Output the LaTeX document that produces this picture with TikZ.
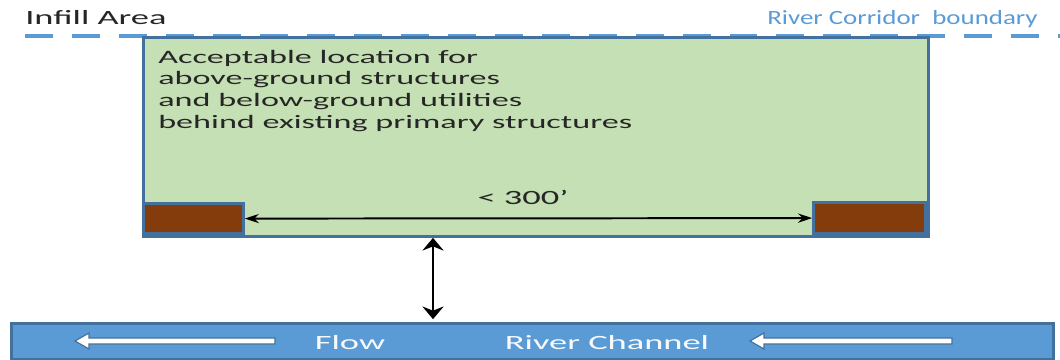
\documentclass[tikz,border=0pt]{standalone}
\usepackage{fontspec}
\setmainfont{Carlito}[FakeStretch=1.8]
\newfontfamily\narrowfont{Carlito}[FakeStretch=1.33]
\usetikzlibrary{arrows.meta}
\definecolor{edgeblue}{HTML}{41719C}
\definecolor{riverblue}{HTML}{5B9BD5}
\definecolor{infillgreen}{HTML}{C5E0B4}
\definecolor{bldgbrown}{HTML}{843C0C}
\definecolor{darktext}{HTML}{262626}

\begin{document}
\begin{tikzpicture}[x=0.025cm,y=-0.025cm,
        lbl/.style={font=\fontsize{13.5}{15.3}\selectfont, inner sep=0pt, text=darktext},
        biglbl/.style={lbl, font=\fontsize{14.4}{16}\selectfont},
        bldg/.style={draw=edgeblue, line width=2pt, fill=bldgbrown, inner sep=0pt},
        flowarrow/.style={draw=edgeblue, line width=0.8pt, fill=white},
        dimarrow/.style={line width=1.4pt, {Stealth[length=10pt,width=6.5pt]}-{Stealth[length=10pt,width=6.5pt]}}]
        \useasboundingbox (0,0) rectangle (1060,360);
        % corridor boundary and labels
        \draw[riverblue, line width=2.8pt, dash pattern=on 19.9pt off 13.5pt] (25,36) -- (1060,36);
        \node [biglbl, anchor=base west] (infilltxt) at (25,25) {Infill Area};
        \node [lbl, anchor=base east, text=riverblue, font=\narrowfont\fontsize{14.4}{16}\selectfont]
              (corridortxt) at (1038,25) {River Corridor\ \ boundary};
        % infill area
        \node [draw=edgeblue, line width=2pt, fill=infillgreen, inner sep=0pt,
               minimum width=19.625cm, minimum height=4.975cm, anchor=north west] (infill) at (142,36) {};
        \node [lbl, anchor=north west, align=left] (infillnote) at (158,50)
              {Acceptable location for\\above-ground structures\\and below-ground utilities\\behind existing primary structures};
        \node [bldg, minimum width=2.5cm, minimum height=0.75cm, anchor=south west] (leftbldg) at (142,235) {};
        \node [bldg, minimum width=2.8cm, minimum height=0.775cm, anchor=south east] (rightbldg) at (927,235) {};
        \draw [dimarrow] (leftbldg.east) -- (rightbldg.west);
        \node [biglbl, anchor=base] (spacing) at (523,205) {< 300'};
        % river channel
        \node [draw=edgeblue, line width=2pt, fill=riverblue, inner sep=0pt,
               minimum width=26.05cm, minimum height=0.9cm, anchor=north west] (channel) at (10,322) {};
        \coordinate (setback) at (433,0);
        \draw [line width=2pt, {Stealth[length=9pt,width=15pt]}-{Stealth[length=9pt,width=15pt]}, shorten >=2pt]
              (infill.south -| setback) -- (channel.north -| setback);
        \foreach \tail/\tip in {275/75, 952/750}
            \draw [flowarrow] (\tail,338) -- (\tip+14,338) -- (\tip+14,333) -- (\tip,341)
                  -- (\tip+14,349) -- (\tip+14,344) -- (\tail,344) -- cycle;
        \node [biglbl, anchor=base, text=white!95!riverblue] (flowtxt) at (350,349) {Flow};
        \node [biglbl, anchor=base, text=white!95!riverblue] (channeltxt) at (607,349) {River Channel};
    \end{tikzpicture}
\end{document}
